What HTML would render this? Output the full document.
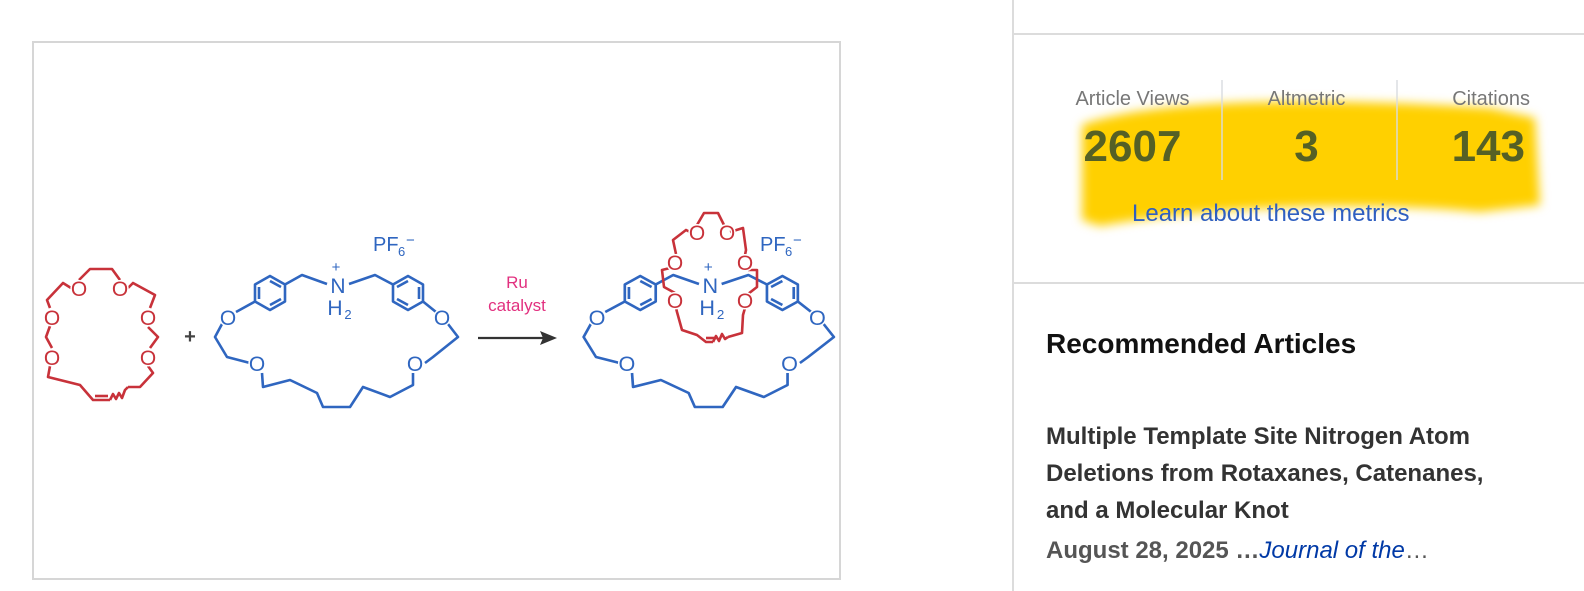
<!DOCTYPE html>
<html><head><meta charset="utf-8"><style>
html,body{margin:0;padding:0;background:#fff;}
body{width:1584px;height:591px;position:relative;overflow:hidden;font-family:"Liberation Sans",Arial,sans-serif;}
.abs{position:absolute;white-space:nowrap;}
svg text{paint-order:stroke;stroke:#fff;stroke-width:3px;}
</style></head><body>
<div class="abs" style="left:32px;top:41px;width:805px;height:535px;border:2px solid #d6d6d6;"></div>
<div class="abs" style="left:1012px;top:0;width:2px;height:591px;background:#dcdcdc;"></div>
<div class="abs" style="left:1014px;top:33px;width:570px;height:2px;background:#dcdcdc;"></div>
<div class="abs" style="left:1014px;top:282px;width:570px;height:2px;background:#dcdcdc;"></div>

<svg class="abs" style="left:0;top:0" width="1584" height="591">
<defs><filter id="bl"><feGaussianBlur stdDeviation="5"/></filter></defs>
<path d="M1082,125 C1150,100 1300,96 1490,108 L1535,118 L1540,205 L1480,212 C1350,200 1200,208 1100,226 L1082,220 Z" fill="#ffd000" filter="url(#bl)"/>
<g fill="none" stroke="#c8323a" stroke-width="2.6" stroke-linejoin="round">
<path d="M79,280 L90,269 L112,269 L120,280 M128,288 L133,283 L155,295 L150,308 M148,327 L158,337 L150,348 M148,366 L153,373 L140,387 L128,387 M110,400 L93,400 L80,385 L48,377 L50,366 M52,348 L46,337 L50,326 M50,308 L47,300 L63,283 L71,288"/>
<path d="M95,396 L108,396"/>
<path d="M110,400 L113,394 L116,399 L119,393 L122,398 L125,390 L128,387" />
</g>
<g font-size="21" fill="#c8323a" text-anchor="middle" font-family="Liberation Sans,sans-serif">
<text x="79" y="296">O</text><text x="120" y="296">O</text>
<text x="52" y="325">O</text><text x="148" y="325">O</text>
<text x="52" y="365">O</text><text x="148" y="365">O</text>
</g>
<text x="190" y="343" font-size="20" fill="#444" text-anchor="middle" font-weight="bold" style="stroke:none">+</text>

<g id="blue">
<g fill="none" stroke="#2f66c0" stroke-width="2.6" stroke-linejoin="round">
<path d="M270,276 L285,284.5 L285,301.5 L270,310 L255,301.5 L255,284.5 Z"/>
<path d="M270,281 L281,287 M281,299 L270,305 M259,299 L259,287"/>
<path d="M408,276 L423,284.5 L423,301.5 L408,310 L393,301.5 L393,284.5 Z"/>
<path d="M408,281 L397,287 M397,299 L408,305 M419,299 L419,287"/>
<path d="M255,301.5 L236,312 M285,284.5 L302,275 L327,284 M349,284 L375,275 L393,284.5 M423,301.5 L436,312"/>
<path d="M222,324 L215,337 L227,357 L250,363 M262,373 L263,387 L290,380 L317,393 L323,407 L350,407 L363,387 L390,397 L413,385 L413,373 M425,363 L433,357 L458,337 L448,324"/>
</g>
<g font-size="21" fill="#2f66c0" text-anchor="middle">
<text x="228" y="325">O</text><text x="442" y="325">O</text>
<text x="257" y="371">O</text><text x="415" y="371">O</text>
<text x="338" y="293">N</text><text x="336" y="272" font-size="15">+</text>
<text x="335" y="315">H</text><text x="348" y="319" font-size="13">2</text>
</g>
</g>
<g font-size="20" fill="#2f66c0"><text x="373" y="251">PF</text><text x="398" y="256" font-size="13">6</text><text x="406" y="245" font-size="15">−</text></g>

<text x="517" y="288" font-size="17" fill="#e2307f" text-anchor="middle">Ru</text>
<text x="517" y="311" font-size="17" fill="#e2307f" text-anchor="middle">catalyst</text>
<path d="M478,338 L545,338" stroke="#333" stroke-width="2.2"/>
<path d="M557,338 L540,331 L543,338 L540,345 Z" fill="#333"/>

<g transform="translate(597,0) scale(1.03,1) translate(-228,0)"><use href="#blue"/></g>
<g font-size="20" fill="#2f66c0"><text x="760" y="251">PF</text><text x="785" y="256" font-size="13">6</text><text x="793" y="245" font-size="15">−</text></g>

<g fill="none" stroke="#c8323a" stroke-width="2.6" stroke-linejoin="round">
<path d="M697,225 L704,213 L718,213 L724,225 M730,232 L743,228 L746,250 L745,255 M748,270 L757,270 L757,287 L748,294 M745,308 L743,315 L742,333 L728,337 M713,342 L706,342 L697,335 L682,330 L677,312 L676,308 M675,293 L664,287 L662,270 L670,268 M676,254 L673,240 L686,230 L690,232"/>
<path d="M706,338 L716,338"/>
<path d="M713,342 L716,336 L719,341 L722,334 L725,339 L728,337"/>
</g>
<g font-size="21" fill="#c8323a" text-anchor="middle">
<text x="697" y="240">O</text><text x="727" y="240">O</text>
<text x="675" y="270">O</text><text x="745" y="270">O</text>
<text x="675" y="308">O</text><text x="745" y="308">O</text>
</g>
</svg>

<div class="abs" style="left:1040px;top:88px;width:185px;text-align:center;font-size:20px;color:#777;">Article Views</div>
<div class="abs" style="left:1214px;top:88px;width:185px;text-align:center;font-size:20px;color:#777;">Altmetric</div>
<div class="abs" style="left:1380px;top:88px;width:150px;text-align:right;font-size:20px;color:#777;">Citations</div>
<div class="abs" style="left:1221px;top:80px;width:2px;height:100px;background:#d8dce0;opacity:.7"></div>
<div class="abs" style="left:1396px;top:80px;width:2px;height:100px;background:#d8dce0;opacity:.7"></div>
<div class="abs" style="left:1040px;top:122px;width:185px;text-align:center;font-size:44px;font-weight:bold;color:#556025;">2607</div>
<div class="abs" style="left:1214px;top:122px;width:185px;text-align:center;font-size:44px;font-weight:bold;color:#556025;">3</div>
<div class="abs" style="left:1400px;top:122px;width:125px;text-align:right;font-size:44px;font-weight:bold;color:#556025;">143</div>
<div class="abs" style="left:1132px;top:200px;font-size:24px;color:#2f5fc0;">Learn about these metrics</div>

<div class="abs" style="left:1046px;top:328px;font-size:28px;font-weight:bold;color:#111;">Recommended Articles</div>
<div class="abs" style="left:1046px;top:418px;font-size:24px;line-height:37px;color:#333;font-weight:bold;">Multiple Template Site Nitrogen Atom<br>Deletions from Rotaxanes, Catenanes,<br>and a Molecular Knot</div>
<div class="abs" style="left:1046px;top:537px;font-size:24px;color:#555;font-weight:bold;">August 28, 2025 …<span style="color:#0039a6;font-style:italic;font-weight:normal;">Journal of the</span><span style="font-weight:normal;">…</span></div>
</body></html>
